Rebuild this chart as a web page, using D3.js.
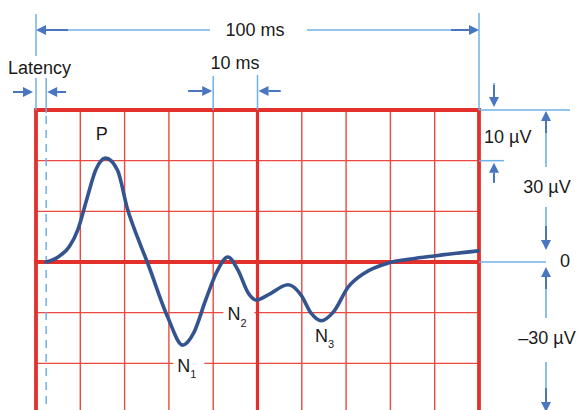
<!DOCTYPE html>
<html>
<head>
<meta charset="utf-8">
<script src="https://cdn.jsdelivr.net/npm/d3@7"></script>
<style>
  html, body { margin: 0; padding: 0; background: #fff; }
  svg { display: block; font-family: "Liberation Sans", Arial, sans-serif; }
</style>
</head>
<body>
<svg id="chart" width="578" height="410"></svg>
<script>
// Evoked potential waveform: time (ms) vs amplitude (µV)
const timeMs = [2.3, 5.0, 7.5, 9.5, 11.5, 13.5, 15.7, 18.4, 20.7, 22.9, 25.2, 29.7, 33.1, 35.6, 38.3, 41.0, 43.3, 45.6, 47.9, 49.7, 52.4, 56.9, 59.8, 62.1, 64.4, 67.1, 70.5, 74.1, 79.5, 84.7, 89.9, 99.8];
const amplitudeUv = [0.0, 1.0, 3.0, 6.5, 12.5, 18.2, 20.5, 18.1, 10.3, 4.9, -0.2, -10.8, -16.4, -14.0, -7.5, -1.6, 1.0, -1.6, -6.1, -7.5, -6.5, -4.5, -6.5, -10.1, -11.6, -9.9, -4.9, -2.2, -0.2, 0.6, 1.2, 2.2];

// Grid divisions
const gridTimes = [0, 10, 20, 30, 40, 50, 60, 70, 80, 90, 100];
const gridAmps = [30, 20, 10, 0, -10, -20, -30];
const majorTimes = [0, 50, 100];
const majorAmps = [30, 0];

// Component labels (anchor = left edge of the letter, vertical centre)
const peakNames = ["P", "N", "N", "N"];
const peakSubs = ["", "1", "2", "3"];
const peakTimes = [13.5, 31.9, 43.2, 63.0];
const peakAmps = [25.3, -20.4, -10.3, -14.6];
const peakBoxed = [false, true, true, false];

const latencyMs = 2.3;

const svg = d3.select("#chart");
const x = d3.scaleLinear().domain([0, 100]).range([36, 479]);
const y = d3.scaleLinear().domain([-30, 30]).range([414, 110]);

const RED = "#e3302b";
const RED_THIN = "#ea4a40";
const GUIDE = "#6fb0e6";
const ARROW = "#4a76c0";
const CURVE = "#33548f";
const FONT = 18;

// thin grid
const grid = svg.append("g");
grid.selectAll("line.v").data(gridTimes).join("line")
  .attr("x1", d => x(d)).attr("x2", d => x(d))
  .attr("y1", y(30)).attr("y2", 410)
  .attr("stroke", RED_THIN).attr("stroke-width", 1.4);
grid.selectAll("line.h").data(gridAmps).join("line")
  .attr("x1", x(0)).attr("x2", x(100))
  .attr("y1", d => y(d)).attr("y2", d => y(d))
  .attr("stroke", RED_THIN).attr("stroke-width", 1.4);

// white label backing on grid lines
peakNames.forEach((n, i) => {
  if (!peakBoxed[i]) return;
  svg.append("rect")
    .attr("x", x(peakTimes[i]) - 4).attr("y", y(peakAmps[i]) - 12)
    .attr("width", 31).attr("height", 26)
    .attr("fill", "#fff");
});

// heavy lines
svg.selectAll("line.mv").data(majorTimes).join("line")
  .attr("x1", d => x(d)).attr("x2", d => x(d))
  .attr("y1", y(30) - 2).attr("y2", 410)
  .attr("stroke", RED).attr("stroke-width", d => d === 50 ? 3.2 : 3.8);
svg.selectAll("line.mh").data(majorAmps).join("line")
  .attr("x1", x(0) - 2).attr("x2", x(100) + 2)
  .attr("y1", d => y(d)).attr("y2", d => y(d))
  .attr("stroke", RED).attr("stroke-width", d => d === 0 ? 4 : 3.8);

// guide lines
function guide(x1, y1, x2, y2, dash) {
  svg.append("line").attr("x1", x1).attr("y1", y1).attr("x2", x2).attr("y2", y2)
    .attr("stroke", GUIDE).attr("stroke-width", 1.5)
    .attr("stroke-dasharray", dash || null);
}
// arrow ending at (x2,y2)
function arrow(x1, y1, x2, y2, dark) {
  const dx = x2 - x1, dy = y2 - y1, len = Math.hypot(dx, dy);
  const ux = dx / len, uy = dy / len;
  const hl = 10, hw = 5;
  svg.append("line").attr("x1", x1).attr("y1", y1).attr("x2", x2 - ux * hl).attr("y2", y2 - uy * hl)
    .attr("stroke", GUIDE).attr("stroke-width", 1.6);
  const d = Math.min(dark || 12, len - hl);
  svg.append("line").attr("x1", x2 - ux * (hl + d)).attr("y1", y2 - uy * (hl + d))
    .attr("x2", x2 - ux * hl).attr("y2", y2 - uy * hl)
    .attr("stroke", ARROW).attr("stroke-width", 2);
  const bx = x2 - ux * hl, by = y2 - uy * hl;
  svg.append("path")
    .attr("d", `M${x2},${y2}L${bx - uy * hw},${by + ux * hw}L${bx + uy * hw},${by - ux * hw}Z`)
    .attr("fill", ARROW);
}
function label(txt, cx, cy, anchor) {
  svg.append("text").attr("x", cx).attr("y", cy).attr("dy", "0.35em")
    .attr("text-anchor", anchor || "middle")
    .attr("font-size", FONT).attr("fill", "#1a1a1a").text(txt);
}

// 100 ms span
guide(x(0), 14, x(0), 56);
guide(x(100), 13, x(100), y(30));
arrow(210, 30, x(0), 30, 22);
arrow(307, 30, x(100), 30, 18);
label("100 ms", 255, 30);

// latency
label("Latency", 8, 68, "start");
guide(x(0), 78, x(0), y(30));
guide(x(latencyMs), 78, x(latencyMs), y(30) + 3);
guide(x(latencyMs), y(30) + 6, x(latencyMs), 410, "8,6");
arrow(13, 92, x(0) - 3, 92, 10);
arrow(66, 92, x(latencyMs) + 1, 92, 10);

// 10 ms division
label("10 ms", 235, 63);
guide(x(40), 76, x(40), y(30));
guide(x(50), 75, x(50), y(30));
arrow(188, 91, x(40) - 1, 91, 14);
arrow(281, 91, x(50) + 1, 91, 12);

// amplitude guides on the right
guide(x(100), y(30), 570, y(30));
guide(x(100), y(20), 504, y(20));
guide(x(100), y(0), 546, y(0));
arrow(494, 83, 494, y(30) - 3, 12);
arrow(494, 183, 494, y(20) + 2, 10);
label("10 µV", 484, 137, "start");
arrow(546, 167, 546, y(30) + 1, 12);
arrow(546, 207, 546, y(0) - 12, 14);
label("30 µV", 547, 187);
label("0", 565, 261);
arrow(546, 318, 546, y(0) + 5, 12);
arrow(546, 362, 546, 412, 14);
label("\u201330 µV", 547, 338);

// waveform
const line = d3.line()
  .x((d, i) => x(timeMs[i]))
  .y(d => y(d))
  .curve(d3.curveMonotoneX);
svg.append("path").datum(amplitudeUv)
  .attr("d", line)
  .attr("fill", "none").attr("stroke", CURVE)
  .attr("stroke-width", 3.6).attr("stroke-linecap", "round").attr("stroke-linejoin", "round");

// component labels
peakNames.forEach((n, i) => {
  const t = svg.append("text")
    .attr("x", x(peakTimes[i])).attr("y", y(peakAmps[i])).attr("dy", "0.35em")
    .attr("text-anchor", "start").attr("font-size", FONT).attr("fill", "#1a1a1a");
  t.append("tspan").text(n);
  if (peakSubs[i]) {
    t.append("tspan").attr("font-size", 11).attr("dy", "0.55em").text(peakSubs[i]);
  }
});
</script>
</body>
</html>
